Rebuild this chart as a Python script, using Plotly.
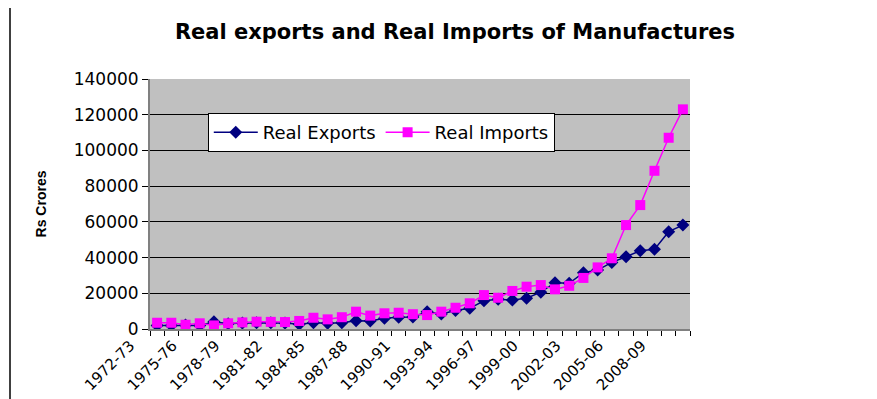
import plotly.graph_objects as go

years = [f"{y}-{str((y + 1) % 100).zfill(2)}" for y in range(1972, 2010)]

real_exports = [2000, 2000, 2200, 2000, 4000, 3000, 3300, 3500, 3500, 3300,
                2600, 3500, 3200, 3500, 4600, 4500, 6000, 6600, 6700, 9700,
                8400, 10300, 11600, 15800, 16600, 16200, 17200, 20600, 25900, 25600,
                31500, 33000, 37300, 40500, 43800, 44600, 54500, 58200]

real_imports = [3500, 3500, 2400, 3200, 2000, 3200, 3700, 4100, 4000, 3900,
                4500, 6300, 5400, 6600, 9700, 7500, 8800, 9100, 8300, 7800,
                9700, 11900, 14400, 19000, 17500, 21300, 23700, 24600, 22200, 24200,
                28600, 34500, 39600, 58200, 69400, 88600, 107100, 123000]

y_ticks = [0, 20000, 40000, 60000, 80000, 100000, 120000, 140000]
y_tick_text = [str(v) for v in y_ticks]

idx = list(range(len(years)))
label_idx = idx[::3]
label_txt = [years[i] for i in label_idx]

W, H = 869, 391
L, R, T, B = 142, 187, 71, 70

fig = go.Figure()
fig.add_trace(go.Scatter(
    x=idx, y=real_exports, name="Real Exports", mode="lines+markers",
    line=dict(color="#000080", width=1.5),
    marker=dict(symbol="diamond", size=10, color="#000080"),
))
fig.add_trace(go.Scatter(
    x=idx, y=real_imports, name="Real Imports", mode="lines+markers",
    line=dict(color="#FF00FF", width=1.5),
    marker=dict(symbol="square", size=10, color="#FF00FF"),
))

fig.add_shape(type="line", xref="paper", yref="paper",
              x0=(2 - L) / 540, x1=(2 - L) / 540, y0=-0.5, y1=1.5,
              line=dict(color="black", width=1.5))

fig.update_layout(
    width=W, height=H,
    margin=dict(l=L, r=R, t=T, b=B),
    paper_bgcolor="white",
    plot_bgcolor="#C0C0C0",
    font=dict(family="DejaVu Sans, Liberation Sans, Arial", color="black"),
    title=dict(text="<b>Real exports and Real Imports of Manufactures</b>",
               x=447 / W, xanchor="center", y=1 - 24 / H, yanchor="middle",
               font=dict(size=21)),
    showlegend=True,
    legend=dict(orientation="h", x=0.107, y=0.864, xanchor="left", yanchor="top",
                bgcolor="white", bordercolor="black", borderwidth=1,
                font=dict(size=18), itemwidth=44),
    xaxis=dict(
        range=[-0.5, len(years) - 0.5],
        tickmode="array", tickvals=label_idx, ticktext=label_txt,
        tickangle=-45, tickfont=dict(size=15), ticks="",
        ticklabelshift=-27, automargin=False,
        showgrid=False, zeroline=False,
        showline=True, linecolor="#808080", linewidth=2,
        minor=dict(tickmode="linear", tick0=0.5, dtick=1, ticks="outside",
                   ticklen=5, tickcolor="black", showgrid=False),
    ),
    yaxis=dict(
        range=[0, 140000], tickmode="array", tickvals=y_ticks, ticktext=y_tick_text,
        tickfont=dict(size=17), ticks="outside", ticklen=6, tickcolor="black",
        showgrid=True, gridcolor="black", gridwidth=1, automargin=False,
        zeroline=False, showline=True, linecolor="#808080", linewidth=2,
        title=dict(text="<b>Rs Crores</b>",
                   font=dict(size=14, family="Liberation Sans Narrow, Liberation Sans"),
                   standoff=24),
    ),
)

fig.write_html("out.html")
